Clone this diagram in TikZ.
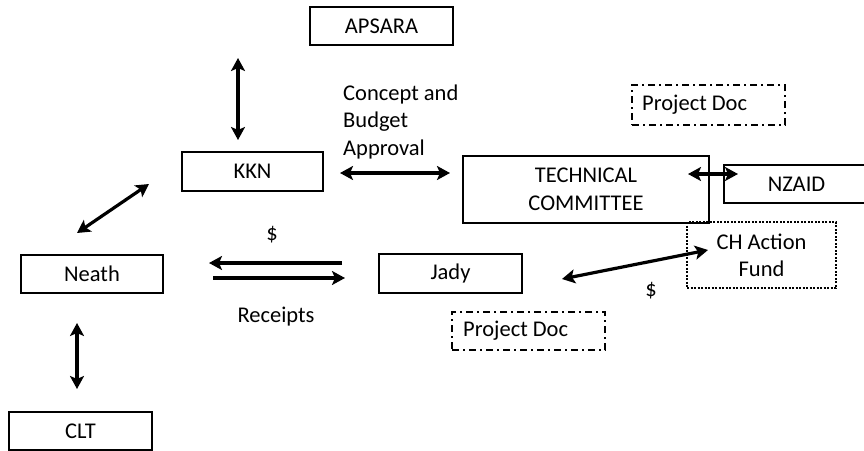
\documentclass[tikz,border=0pt]{standalone}
\usepackage{fontspec}
\setmainfont{Carlito}
\usetikzlibrary{arrows.meta}
\begin{document}
\begin{tikzpicture}[x=1pt,y=-1pt,
  every node/.style={font=\fontsize{22.5}{27.5}\selectfont, inner sep=0pt},
  box/.style={draw, line width=1.7pt, fill=white},
  pdbox/.style={draw, line width=1.7pt, dash pattern=on 7pt off 4pt on 2pt off 4pt},
  dotbox/.style={draw, line width=1.4pt, dash pattern=on 2pt off 1.5pt},
  conn/.style={line width=3.2pt, {Stealth[length=13pt,width=14pt,inset=3pt]}-{Stealth[length=13pt,width=14pt,inset=3pt]}},
  oneway/.style={line width=3.2pt, -{Stealth[length=13pt,width=14pt,inset=3pt]}}
]
\useasboundingbox (0,0) rectangle (864,450);
\clip (0,0) rectangle (864,450);

\node[box, minimum width=143pt, minimum height=38pt] (apsara) at (381.5,26) {APSARA};
\node[box, minimum width=141pt, minimum height=39pt] (kkn) at (252.5,171.5) {KKN};
\node[box, minimum width=246pt, minimum height=67pt, align=center, font=\fontsize{22.5}{28}\selectfont] (tc) at (586,189.5) {TECHNICAL\\COMMITTEE};
\node[box, minimum width=145pt, minimum height=38pt] (nzaid) at (796.5,184) {NZAID};
\node[box, minimum width=142pt, minimum height=38pt] (neath) at (92,274) {Neath};
\node[box, minimum width=143pt, minimum height=39pt] (jady) at (450.5,273.5) {Jady};
\node[dotbox, minimum width=149pt, minimum height=66pt, align=center, font=\fontsize{22.5}{27}\selectfont] (ch) at (761.5,255) {CH Action\\Fund};
\node[box, minimum width=143pt, minimum height=38pt] (clt) at (80.5,431) {CLT};

\node[pdbox, minimum width=153pt, minimum height=40pt] (pd1) at (708.5,105) {};
\node[anchor=west] (pd1t) at (642,105) {Project Doc};
\node[pdbox, minimum width=153pt, minimum height=38pt] (pd2) at (528.5,331) {};
\node[anchor=west] (pd2t) at (463,331) {Project Doc};

\node[anchor=base west, align=left] (concept) at (343,155) {Concept and\\Budget\\Approval};
\node (dol1) at (272,235) {\$};
\node (receipts) at (276,317) {Receipts};
\node (dol2) at (651,291) {\$};

\coordinate (a1) at (238,58);  \coordinate (a2) at (238,140);
\coordinate (b1) at (149,184); \coordinate (b2) at (77,233);
\coordinate (c1) at (340,173); \coordinate (c2) at (450,173);
\coordinate (d1) at (688,174); \coordinate (d2) at (738,174);
\coordinate (e1) at (342,263); \coordinate (e2) at (209,263);
\coordinate (f1) at (213,278); \coordinate (f2) at (345,278);
\coordinate (g1) at (562,279); \coordinate (g2) at (708,250);
\coordinate (h1) at (77,323);  \coordinate (h2) at (77,389);

\draw[conn] (a1) -- (a2);
\draw[conn] (b1) -- (b2);
\draw[conn] (c1) -- (c2);
\draw[conn] (d1) -- (d2);
\draw[oneway] (e1) -- (e2);
\draw[oneway] (f1) -- (f2);
\draw[conn] (g1) -- (g2);
\draw[conn] (h1) -- (h2);
\end{tikzpicture}
\end{document}
